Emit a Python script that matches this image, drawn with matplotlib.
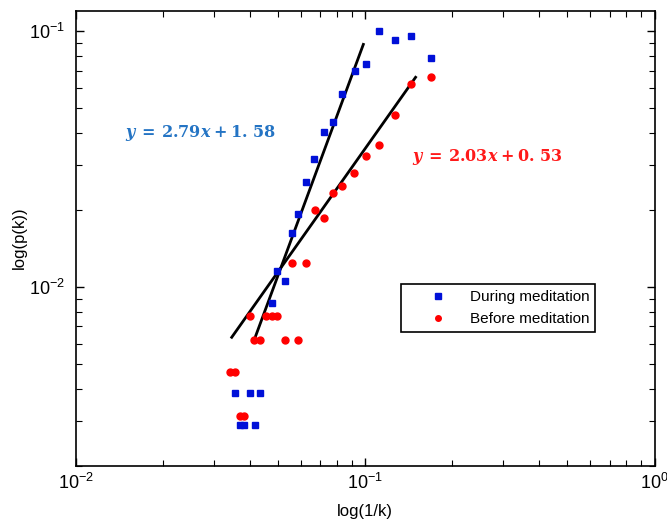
import matplotlib
matplotlib.use("Agg")
import matplotlib.pyplot as plt
import numpy as np

plt.rcParams['font.family'] = ['Liberation Sans', 'DejaVu Sans']
plt.rcParams['mathtext.fontset'] = 'custom'
plt.rcParams['mathtext.rm'] = 'Liberation Sans'
plt.rcParams['mathtext.bf'] = 'DejaVu Serif:bold'
plt.rcParams['mathtext.bfit'] = 'DejaVu Serif:italic:bold'

# during meditation (blue)
x_during = [0.1114, 0.1268, 0.1444, 0.1694, 0.1007, 0.0921, 0.0835, 0.0772,
            0.0719, 0.0667, 0.0623, 0.0588, 0.0557, 0.0498, 0.0529, 0.0476,
            0.0354, 0.0400, 0.0435, 0.0369, 0.0382, 0.0417]
y_during = [0.1000, 0.0919, 0.0953, 0.0785, 0.0744, 0.0696, 0.0568, 0.0441,
            0.0404, 0.0316, 0.0258, 0.0193, 0.0163, 0.01148, 0.01051, 0.00865,
            0.00383, 0.00383, 0.00383, 0.00289, 0.00289, 0.00289]

# before meditation (red)
x_before = [0.1694, 0.1444, 0.1268, 0.1114, 0.1007, 0.0918, 0.0835, 0.0772,
            0.0669, 0.0719, 0.0557, 0.0623, 0.0400, 0.0456, 0.0478, 0.0498,
            0.0414, 0.0435, 0.0529, 0.0586, 0.0342, 0.0354, 0.0369, 0.0382]
y_before = [0.0663, 0.0621, 0.0470, 0.0358, 0.0325, 0.0278, 0.0248, 0.0232,
            0.0200, 0.0186, 0.01236, 0.01236, 0.0077, 0.0077, 0.0077, 0.0077,
            0.00621, 0.00621, 0.00621, 0.00621, 0.00463, 0.00463, 0.00312, 0.00312]

# fitted lines (end points)
fit_during_x = [0.0417, 0.0986]
fit_during_y = [0.00635, 0.0886]
fit_before_x = [0.0346, 0.1494]
fit_before_y = [0.00635, 0.0659]

eq_during = r'$\mathbfit{y}\mathbf{\:=\:2.79}\mathbfit{x}\mathbf{\:+\:1.\,58}$'
eq_before = r'$\mathbfit{y}\mathbf{\:=\:2.03}\mathbfit{x}\mathbf{\:+\:0.\,53}$'

fig = plt.figure(figsize=(6.67, 5.24), dpi=100)
ax = fig.add_axes([0.1135, 0.1113, 0.8678, 0.8683])

ax.plot(fit_during_x, fit_during_y, color='black', lw=2)
ax.plot(fit_before_x, fit_before_y, color='black', lw=2)
ax.plot(x_during, y_during, 's', color='#0010d8', ms=5, mec='#0010d8',
        label='During meditation')
ax.plot(x_before, y_before, 'o', color='#ff0000', ms=5, mec='#ff0000',
        label='Before meditation')

ax.set_xscale('log')
ax.set_yscale('log')
ax.set_xlim(1e-2, 1e0)
ax.set_ylim(0.002, 0.12)

ax.tick_params(which='both', direction='in', top=True, right=True, labelsize=13)
ax.tick_params(which='major', length=6, width=1)
ax.tick_params(which='minor', length=4, width=0.8)
ax.tick_params(axis='x', pad=5)
ax.tick_params(axis='y', pad=8)
for s in ax.spines.values():
    s.set_linewidth(1.2)

ax.set_xlabel('log(1/k)', fontsize=12, labelpad=8)
ax.set_ylabel('log(p(k))', fontsize=12, labelpad=1)

ax.text(0.215, 0.731, eq_during, transform=ax.transAxes, color='#2474c4',
        fontsize=11.5, ha='center', va='center')
ax.text(0.711, 0.679, eq_before, transform=ax.transAxes, color='#ff1a1a',
        fontsize=11.5, ha='center', va='center')

leg = ax.legend(loc='upper left', bbox_to_anchor=(0.562, 0.399), fontsize=11,
                fancybox=False, edgecolor='black', framealpha=1,
                handlelength=4, handletextpad=0.1, borderpad=0.4,
                labelspacing=0.5, borderaxespad=0, markerscale=0.8)
leg.get_frame().set_linewidth(1.2)

fig.savefig('out.png', dpi=100)
